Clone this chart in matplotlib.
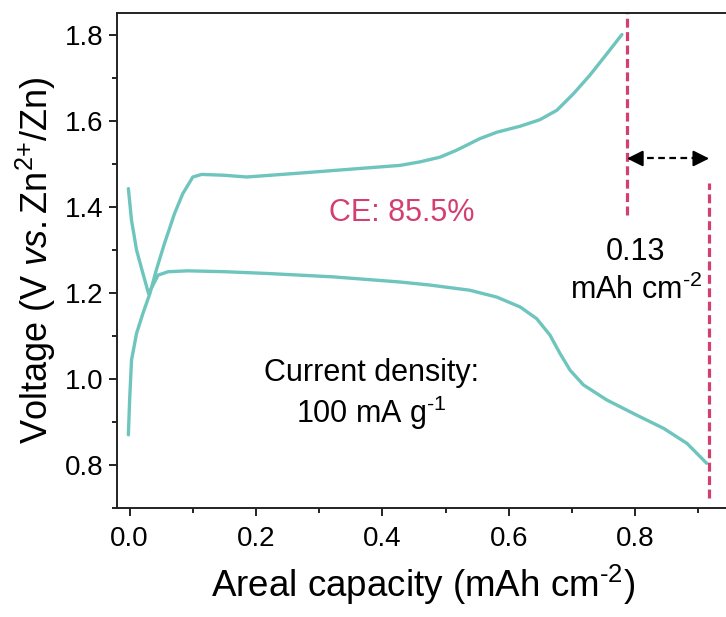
import matplotlib
matplotlib.use("Agg")
import matplotlib.pyplot as plt
from matplotlib.ticker import MultipleLocator

plt.rcParams["font.family"] = ["Liberation Sans", "DejaVu Sans"]
plt.rcParams["mathtext.fontset"] = "custom"
plt.rcParams["mathtext.rm"] = "Liberation Sans"
plt.rcParams["mathtext.it"] = "Liberation Sans:italic"
plt.rcParams["mathtext.bf"] = "Liberation Sans:bold"

# Charge curve (areal capacity in mAh cm^-2, voltage in V)
charge_cap = [-0.002, 0.000, 0.003, 0.011, 0.021, 0.032, 0.042, 0.055, 0.071,
              0.084, 0.100, 0.114, 0.150, 0.185, 0.269, 0.322, 0.428, 0.459,
              0.491, 0.517, 0.554, 0.581, 0.618, 0.649, 0.676, 0.702, 0.728,
              0.755, 0.779]
charge_v = [0.870, 0.951, 1.044, 1.106, 1.152, 1.198, 1.252, 1.314, 1.384,
            1.430, 1.469, 1.475, 1.473, 1.469, 1.478, 1.484, 1.496, 1.504,
            1.515, 1.531, 1.558, 1.573, 1.587, 1.602, 1.624, 1.662, 1.705,
            1.755, 1.800]

# Discharge curve
discharge_cap = [-0.002, 0.003, 0.011, 0.021, 0.030, 0.045, 0.061, 0.092,
                 0.150, 0.216, 0.322, 0.428, 0.475, 0.538, 0.581, 0.618,
                 0.644, 0.665, 0.681, 0.697, 0.718, 0.755, 0.802, 0.845,
                 0.882, 0.913]
discharge_v = [1.442, 1.368, 1.299, 1.245, 1.198, 1.241, 1.249, 1.251,
               1.249, 1.245, 1.237, 1.225, 1.218, 1.206, 1.190, 1.167,
               1.140, 1.102, 1.059, 1.020, 0.986, 0.951, 0.916, 0.885,
               0.850, 0.804]

# Capacity markers and the gap between them
charge_end = 0.787
discharge_end = 0.917
gap_label = "0.13"
ce_label = "CE: 85.5%"

teal = "#6ec5bd"
crimson = "#d43f72"

fig = plt.figure(figsize=(7.26, 6.17), dpi=100)
ax = fig.add_axes([117 / 726, 1 - 508 / 617, 613 / 726, 495 / 617])

ax.plot(charge_cap, charge_v, color=teal, lw=2.4,
        solid_capstyle="round", solid_joinstyle="round")
ax.plot(discharge_cap, discharge_v, color=teal, lw=2.4,
        solid_capstyle="round", solid_joinstyle="round")

# Vertical dashed markers
ax.plot([charge_end, charge_end], [1.38, 1.85], color=crimson, lw=2.3,
        ls=(0, (2.8, 1.4)))
ax.plot([discharge_end, discharge_end], [0.723, 1.455], color=crimson, lw=2.3,
        ls=(0, (2.8, 1.4)))

# Double-headed dashed arrow between the two end capacities
arrow_y = 1.512
ax.plot([charge_end + 0.015, discharge_end - 0.015], [arrow_y, arrow_y],
        color="black", lw=1.6, ls=(0, (3, 2)))
for tip, tail in [(charge_end, charge_end + 0.022),
                  (discharge_end, discharge_end - 0.022)]:
    ax.annotate("", xy=(tip, arrow_y), xytext=(tail, arrow_y),
                arrowprops=dict(arrowstyle="-|>", color="black", lw=1.5,
                                mutation_scale=24, shrinkA=0, shrinkB=0))

ax.text(0.431, 1.385, ce_label, color=crimson, fontsize=22,
        ha="center", va="center")
ax.text(0.801, 1.25, gap_label + "\nmAh cm$^{\\text{-}2}$", color="black",
        fontsize=22, ha="center", va="center", multialignment="center",
        linespacing=1.3)
ax.text(0.383, 0.962, "Current density:\n100 mA g$^{\\text{-}1}$",
        color="black", fontsize=22, ha="center", va="center",
        multialignment="center", linespacing=1.2)

ax.set_xlim(-0.02, 0.95)
ax.set_ylim(0.70, 1.85)
ax.xaxis.set_major_locator(MultipleLocator(0.2))
ax.xaxis.set_minor_locator(MultipleLocator(0.1))
ax.yaxis.set_major_locator(MultipleLocator(0.2))
ax.yaxis.set_minor_locator(MultipleLocator(0.1))
ax.xaxis.set_major_formatter(plt.FormatStrFormatter("%.1f"))
ax.yaxis.set_major_formatter(plt.FormatStrFormatter("%.1f"))

ax.tick_params(which="major", direction="out", length=6, width=1.4,
               labelsize=20, color="#222222", labelcolor="black")
ax.tick_params(which="minor", direction="out", length=3.5, width=1.4,
               color="#222222")
ax.tick_params(axis="y", pad=4)
ax.tick_params(axis="x", pad=7)
for s in ax.spines.values():
    s.set_linewidth(1.4)
    s.set_color("#222222")

ax.set_xlabel("Areal capacity (mAh cm$^{\\text{-}2}$)", fontsize=26.5,
              labelpad=8)
ax.set_ylabel("Voltage (V $\\mathit{vs.}$Zn$^{\\text{2+}}$/Zn)", fontsize=26,
              labelpad=5)

fig.savefig("out.png", dpi=100)
